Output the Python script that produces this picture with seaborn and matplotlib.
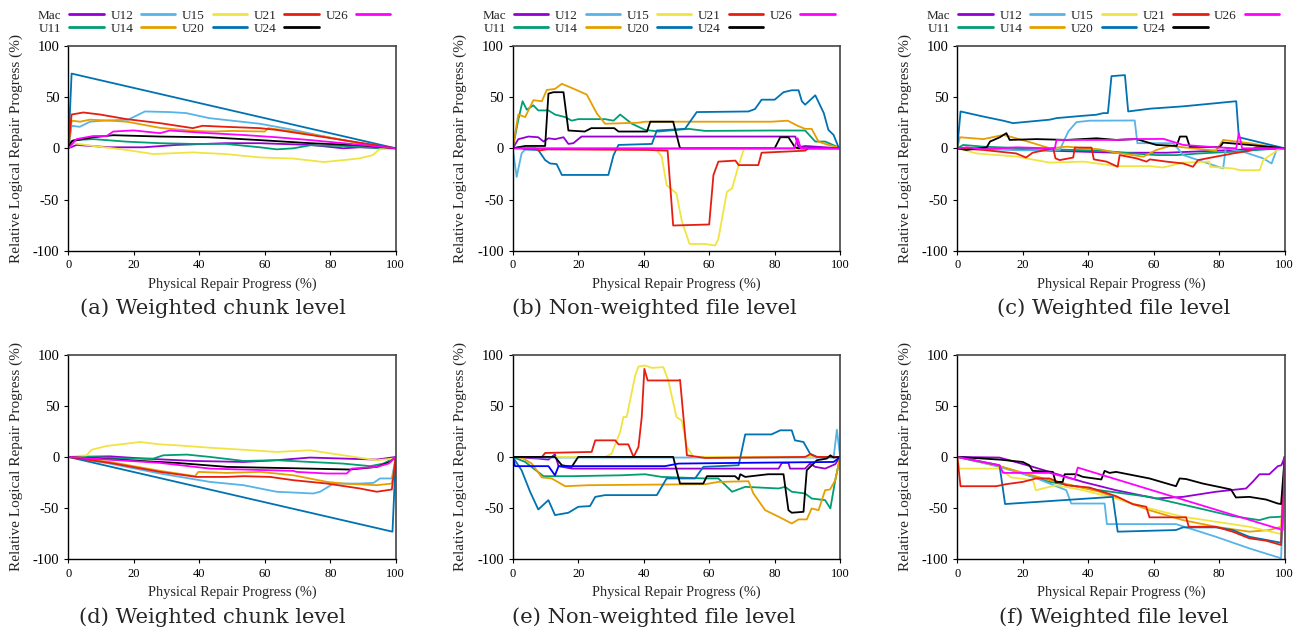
import numpy as np
import pandas as pd
import matplotlib
matplotlib.use("Agg")
import matplotlib.pyplot as plt
from matplotlib.lines import Line2D
import seaborn as sns

# ---------------- data ----------------
SERIES = ["Mac", "U11", "U12", "U14", "U15", "U20", "U21", "U24", "U26"]
COLORS = ["#9400D3", "#009E73", "#56B4E9", "#E69F00", "#F0E442",
          "#0072B2", "#E51E10", "#000000", "#FF00FF"]
EXTRA_NAME = "extra"
EXTRA_COLOR = "#0000FF"

CAPTIONS = ["(a) Weighted chunk level", "(b) Non-weighted file level", "(c) Weighted file level",
            "(d) Weighted chunk level", "(e) Non-weighted file level", "(f) Weighted file level"]
X_TICKS = [0, 20, 40, 60, 80, 100]
Y_TICKS = [-100, -50, 0, 50, 100]
X_LABEL = "Physical Repair Progress (%)"
Y_LABEL = "Relative Logical Repair Progress (%)"

# ---- panel (a) ----
A_MAC = [(0,0),(2.5,3.3),(12.7,1),(23,1),(33,3.3),(48,5),(58.5,5),(74,3.3),(84,0),(89,1),(100,0)]
A_U11 = [(0,0),(1.5,8),(7.6,9),(17.8,6.5),(28,5),(38,4.3),(48,4.3),(58.5,1),(63.6,-1),(68.7,0),(74,3),(84,2.3),(94,0.3),(100,0)]
A_U12 = [(0,0),(1,22),(3.5,21),(6.6,26),(10.7,27),(18.3,28),(23.4,36),(31,35.4),(36,34.4),(43,29.5),(50,27),(58.5,24),(68.7,18),(79,11),(89,5),(100,0)]
A_U14 = [(0,0),(1,27),(3.6,26),(6.6,28),(12.7,27),(17.8,26),(28,20),(38,17),(44.3,16.4),(50,17),(60,16.4),(61,19.7),(68.7,16.4),(79,11),(89,5),(100,0)]
A_U15 = [(0,0),(1.5,5),(7.6,2.3),(17.8,-1.6),(26,-5.6),(38,-4),(48,-5.6),(58.5,-8.9),(68.7,-10),(78,-13.4),(84,-11.5),(89,-9.8),(93,-6.6),(95,-1),(100,0)]
A_U20 = [(0,0),(1,73),(100,0)]
A_U21 = [(0,0),(1,33),(4.6,35),(9.7,33),(17.8,28.5),(28,24.6),(38,19.7),(41,22),(48,21),(58.5,19.7),(63.6,18),(74,13),(84,8),(94,3),(100,0)]
A_U24 = [(0,0),(1,7),(7.6,10.8),(13.7,12.8),(28,11.5),(43,10.8),(58.5,8),(74,5),(89,3),(100,0)]
A_U26 = [(0,0),(2.5,9),(7.6,12),(11.7,12),(13.7,16.4),(19.9,17.5),(28,14.8),(31,17.4),(43,14.8),(53.5,13),(63.6,10.8),(74,8),(84,5),(94,2),(100,0)]

# ---- panel (b) ----
B_MAC = [(0,0),(1.7,8.9),(4.8,11.5),(7.8,10.8),(9.4,6.6),(10.9,9.8),(12.9,8.9),(15.5,10.8),(17,4.3),(18.5,5),(21,11.5),(38.4,11.5),(86.3,11.5),(87.3,1),(89.3,2.3),(100,0)]
B_U11 = [(0,0),(1.7,28),(3,46),(4.3,37.7),(6.3,42),(7.8,37),(10.9,37),(12.9,33),(16,30.5),(18,27),(20,28.5),(28.2,28.5),(30.8,27),(32.8,33),(36.4,24),(40.4,18),(44.5,16.4),(53.7,19),(58.8,17),(79,17.4),(89.3,17.4),(92.4,6.6),(95.4,6.6),(98.5,2.3),(100,0)]
B_U12 = [(0,0),(1.2,-28),(2.7,-5),(3.8,-1),(100,0)]
B_U14 = [(0,0),(1.7,33),(3.8,30.5),(6.3,47),(8.9,46),(10.4,57),(12.9,58),(15,63),(18,59),(22.6,52.5),(25.7,34),(28.2,24),(38.4,25),(40.4,26),(58.8,26),(79,26),(84,27),(87,22),(89.3,19),(91.3,19),(93.4,6.5),(96.4,3.3),(99.5,1),(100,0)]
B_U15 = [(0,0),(43.5,0),(45.5,-8),(47,-36),(50,-44),(51.6,-70.5),(54,-93.4),(58.7,-93.4),(61.8,-95),(62.8,-88.5),(65.4,-42.6),(67,-39),(69,-16.4),(70.5,-1.6),(72,0),(100,0)]
B_U20 = [(0,0),(1.7,1),(3.8,-1),(7.8,-1.6),(9.9,-11.5),(11.4,-14.8),(13.4,-15.4),(15,-26),(29.2,-26),(30.8,-6.6),(32.3,3.3),(42.5,4.3),(44,17.4),(52.6,19),(56.2,35.4),(72,36),(74,38.4),(76,47.5),(80,47.5),(82.7,54.8),(85.2,56.7),(87.3,56.7),(88.3,46),(89.3,42.6),(92.4,51.8),(95,34.4),(96.4,18),(98,13),(99.5,1),(100,0)]
B_U21 = [(0,0),(7,0),(7.8,-2.3),(10.5,-1),(41.4,-1.6),(47.3,-2.3),(49,-75.4),(60,-74.4),(61.3,-26),(62.8,-13),(68,-12),(69,-16.4),(75,-16.4),(76,-4.3),(89.3,-2.3),(90.3,0),(100,0)]
B_U24 = [(0,0),(3.8,2.3),(9.9,2.3),(10.9,53.4),(12.4,54.8),(15.5,54.8),(17,17.4),(22,16.4),(24,19.7),(31,19.7),(32.3,16.4),(41,16.4),(42,26),(49,26),(51,1),(51.5,0),(80,0),(81.7,10.8),(84.2,10.8),(86.2,1),(87.3,0),(100,0)]
B_U26 = [(0,0),(86,0),(87,9.8),(88,0),(100,0)]

# ---- panel (c) ----
C_MAC = [(0,0),(8,0),(28.3,-2.3),(48.6,-4.3),(63.9,-4.3),(79,-2.3),(89.3,-1),(100,0)]
C_U11 = [(0,0),(1.8,3.3),(8,1.6),(28.3,-1),(43.5,-2.3),(53.7,-5),(60.8,-6.6),(67,-6.6),(74,-5),(84.2,-3.3),(94.4,-1),(100,0)]
C_U12 = [(0,0),(10,-1),(20,-2),(31.3,-1.6),(33.9,16.4),(36.4,25.6),(40.5,27),(54.2,27.2),(55,5),(66,5),(69,-6.6),(75,-13),(81.2,-19.7),(82,0),(87.3,-3.3),(93.4,-9.8),(96,-14.8),(97.5,-1.6),(100,0)]
C_U14 = [(0,0),(0.8,10.8),(8,9),(14,13),(15.5,12),(23.2,5),(28.3,0),(33.4,1.6),(43.5,-1),(48.6,-4.3),(56.8,-8.2),(60.8,-1.6),(65,2.3),(69,1),(79,-2.3),(81.2,8.2),(85.2,6.6),(89.3,5),(94.4,2.3),(100,0)]
C_U15 = [(0,0),(5.9,-5),(18,-8),(28.3,-14),(38.5,-13),(48.6,-17.4),(58.8,-17.4),(62.9,-18.7),(69,-14),(77,-13),(77.2,-18),(84.2,-19.7),(86.3,-21.3),(92.4,-21.3),(93.4,-11.5),(96.4,-5),(98.5,0),(100,0)]
C_U20 = [(0,0),(1,36),(8,31),(14,27),(17,24.6),(28.3,28),(30.3,29.5),(38.5,31.8),(42.5,32.8),(44.6,34.4),(46,34.4),(47.1,70.5),(51.2,71.5),(52.2,36),(58.8,38.7),(69,41),(85.2,46),(86,10.8),(100,0)]
C_U21 = [(0,0),(8,-1.6),(18,-5),(21,-9),(23,-4.3),(29.3,0),(30,-9.8),(31.3,-11.5),(35.4,-9),(35.9,0.7),(41,0.7),(41.7,-10.8),(45.6,-13),(49,-18),(49.6,-6.6),(54.7,-9.8),(57.8,-13),(58.8,-10.8),(63.9,-13),(69,-14.8),(72,-18),(73.5,-11.5),(84.2,-5),(89.3,-2.3),(91.3,1),(100,0)]
C_U24 = [(0,0),(2.8,-1.6),(9,1),(10,6.6),(13,10.8),(15,14.8),(16,8.2),(24.2,9),(33.4,8.2),(42.5,9.8),(48.6,8.2),(54.7,9),(60.8,3.3),(67,2.3),(68,11.5),(70,11.5),(71,1.6),(80.2,1),(81.2,5.6),(89.3,3.3),(100,0)]
C_U26 = [(0,0),(3,1),(8,-1),(18,1),(28.3,0),(29.8,0),(30.3,8.2),(38.5,8.2),(48.6,8.2),(53.7,9),(63,9.2),(69,3.3),(79,1),(85.2,0),(86,14.8),(87,0),(100,0)]

# ---- panel (d) ----
D_MAC = [(0,0),(12.7,0.6),(23,-1.6),(38.2,-3.9),(53.5,-4.9),(63.6,-3.2),(73.8,-0.6),(84,-1.6),(94.2,-2.6),(100,0)]
D_U11 = [(0,0),(7.6,0),(17.8,-1.6),(26,-1.6),(29,1.6),(36.2,2.3),(43.3,0),(53.5,-3.9),(63.6,-3.2),(73.8,-4.9),(84,-6.5),(92.2,-9),(96.2,-6.5),(99.3,-1.6),(100,0)]
D_U12 = [(0,0),(12.7,-6.5),(28,-16.2),(43.3,-24.4),(53.5,-27.6),(63.6,-34),(74.8,-35.7),(76.9,-34),(81,-26),(89,-26),(93.2,-25.3),(95.2,-21),(98.8,-21),(100,0)]
D_U14 = [(0,0),(12.7,-4.9),(28,-13.6),(38.7,-18.8),(39.7,-14.6),(48.4,-15.6),(58.6,-14.6),(68.7,-17.9),(79,-24.4),(84,-26),(94.2,-27.6),(98.8,-26),(100,0)]
D_U15 = [(0,0),(5.6,1.6),(7.1,7),(11.7,10.7),(17.8,13),(22,14.6),(28,12.3),(33,11.4),(43.3,9),(53.5,7),(63.6,4.9),(73.8,6.5),(84,1.6),(94.2,-3.2),(99.3,-1.6),(100,0)]
D_U20 = [(0,0),(99,-73),(100,0)]
D_U21 = [(0,0),(12.7,-5.8),(28,-14.6),(39.2,-19.5),(48.4,-19.5),(53.5,-18.8),(61.6,-19.5),(68.7,-22.7),(79,-26),(89,-30.8),(94.2,-34),(98.8,-31.8),(100,0)]
D_U24 = [(0,0),(17.8,-3.2),(33,-5.8),(48.4,-9.7),(58.6,-10.4),(73.8,-11.4),(86,-12.3),(94.2,-9.7),(98.3,-4.9),(100,0)]
D_U26 = [(0,0),(7.6,-1.6),(28,-5.8),(43.3,-11.4),(53.5,-12.3),(68.7,-13.6),(69.7,-14.6),(79,-16.2),(85,-16.2),(86.6,-11.4),(94.2,-9.7),(97.8,-6.5),(100,0)]

# ---- panel (e) ----
E_MAC = [(0,0),(7.8,-1.6),(10.9,-2.6),(12.9,2.6),(14,-9),(18,-11.4),(81.2,-11.4),(82.2,-5.8),(84.2,-5.8),(84.7,-11.4),(89.3,-11.4),(90.8,-6.5),(92.4,-9.7),(95.4,-11.4),(98.5,-7.1),(100,0)]
E_U11 = [(0,0),(3.8,-4.9),(9.4,-18.8),(18,-18.8),(33.3,-17.9),(40.4,-16.9),(45.5,-19.5),(58.8,-21),(62.8,-21),(67,-34),(71,-29.2),(81.2,-30.8),(83.2,-29.2),(85.2,-34),(89.3,-35.7),(91.3,-40.6),(95.4,-42.2),(97,-50.3),(98.5,-22.7),(100,0)]
E_U12 = [(0,0),(7.8,-0.6),(48.6,-0.6),(98,-0.6),(99,26.6),(100,0)]
E_U14 = [(0,0),(2.7,-0.6),(5.8,-6.5),(8.9,-20),(11.9,-21),(16,-28.6),(23.1,-27.6),(58.8,-26.6),(62.8,-24.4),(72,-23.7),(73.5,-35.7),(77.1,-52),(81.2,-58.4),(85.2,-65),(87.3,-61),(89.8,-61),(91.3,-50.3),(93.4,-52),(95.4,-32.5),(96.9,-31.8),(98.5,-22.7),(100,0)]
E_U15 = [(0,0),(28.2,0),(30.2,3.2),(32.8,24.4),(33.8,39),(34.8,39),(37.4,79.5),(38.4,88.3),(40.4,89.3),(42.5,87),(46,87.7),(47.5,74.7),(50,39),(51.6,35.7),(53.2,9.7),(55.2,0),(100,0)]
E_U20 = [(0,0),(2.7,-13),(5.3,-34),(7.8,-51.3),(10.9,-42.2),(12.9,-56.8),(17,-54.5),(20,-48.7),(23.6,-48),(25.2,-39),(28.2,-37.3),(44,-37.3),(47,-21),(55.7,-21),(58.2,-9.7),(69,-8.1),(71,22),(79,22),(81.7,26),(85.2,26),(86.2,16.2),(88.8,14.6),(90.8,3.2),(92.9,0),(100,0)]
E_U21 = [(0,0),(8.9,0),(9.9,3.9),(24.1,4.9),(25.2,16.2),(31.3,16.2),(32.3,12.3),(35.3,12.3),(36.9,0),(38.4,9.7),(39.4,39),(40.2,86),(41.2,74.7),(50.6,74.7),(51.1,75.3),(53.2,1.6),(58.8,-1),(89.3,0),(90.8,2.6),(92.9,0),(100,0)]
E_U24 = [(0,0),(12.9,0),(15,-8.1),(18,-9.7),(20,0),(49,0),(51.1,-26),(58.2,-26),(59.3,-18.8),(67.9,-18.8),(69,-22),(69.5,-16.9),(71,-19.5),(78,-16.9),(82.7,-16.9),(84.2,-52),(85.2,-54.5),(88.8,-53.6),(89.8,-13),(92.9,-3.2),(95.9,-1.6),(97,1.6),(98,-0.6),(100,0)]
E_U26 = []
E_EXTRA = [(0,0),(0.7,-9),(10.9,-9),(12.9,-17.9),(14,-9),(46.5,-9),(50.6,-6.5),(69,-5.8),(98,-4.9),(100,0)]

# ---- panel (f) ----
F_MAC = [(0,0),(12.9,-0.6),(23.1,-9.7),(38.4,-24.4),(48.5,-32.5),(60.7,-40.6),(68.9,-39),(79,-34),(88.2,-30.8),(90.2,-24.4),(92.3,-16.9),(95.3,-16.9),(97.9,-9),(99,-8.1),(100,0)]
F_U11 = [(0,0),(12.9,-9),(28.2,-24.4),(43.4,-32.5),(58.7,-39),(74,-50.3),(84.1,-57.8),(92.3,-61.7),(95.3,-59),(98.9,-58.4),(99.4,-56),(100,0)]
F_U12 = [(0,0),(12.9,-9.7),(23.1,-19.5),(33.3,-32.5),(34.8,-45.5),(45,-45.5),(45.7,-65.6),(66.8,-65.6),(79,-78),(89.2,-89.3),(98.9,-99),(100,0)]
F_U14 = [(0,0),(12.9,-9),(28.2,-22.7),(43.4,-34),(58.7,-52),(68.9,-61.7),(79,-68.2),(89.2,-73),(95.3,-71.4),(98.9,-68.2),(100,0)]
F_U15 = [(0,0),(0.7,-11.4),(12.9,-11.4),(16.5,-20),(23.1,-22.7),(24,-32.5),(30.2,-27.6),(38.4,-32.5),(48.5,-40.6),(58.7,-50.3),(68.9,-58.4),(79,-63.3),(89.2,-68.2),(98.9,-75.3),(100,0)]
F_U20 = [(0,0),(12.9,-8.1),(14.6,-46),(47.5,-39),(49,-73),(66.8,-71.4),(68.9,-68.8),(79,-68.8),(84.1,-71.4),(89.2,-78),(98.9,-83.8),(100,0)]
F_U21 = [(0,0),(1,-28.6),(11.9,-28.6),(14.9,-26.6),(20,-24.4),(24.1,-21),(28.2,-21),(33.3,-27.6),(40.4,-29.9),(48.5,-38.3),(53.6,-46.1),(57.7,-48.7),(58.7,-59),(69.9,-59),(70.7,-68.2),(79,-68.2),(84.1,-73),(89.2,-79.5),(94.3,-81.8),(98.9,-86),(100,0)]
F_U24 = [(0,0),(12.9,-2.6),(20,-4.9),(22,-8.1),(23,-13.6),(29.2,-14.6),(30,-24.4),(32.2,-24.4),(32.8,-16.9),(36.3,-16.9),(38.4,-19.5),(44,-22),(45,-13.6),(46.5,-15.6),(48.5,-14.6),(58.7,-21),(66.8,-28.6),(67.9,-21),(69.9,-21.6),(75,-26),(81,-30),(83.6,-31.8),(85.1,-39.6),(89.2,-39),(94.3,-41.6),(97.9,-45.5),(98.9,-46),(100,0)]
F_U26 = [(0,0),(12.9,-8.1),(14,-15.6),(28.2,-15.6),(35.8,-22),(36.8,-10.4),(99.4,-71.4),(100,0)]

PANELS = [
    [A_MAC, A_U11, A_U12, A_U14, A_U15, A_U20, A_U21, A_U24, A_U26, []],
    [B_MAC, B_U11, B_U12, B_U14, B_U15, B_U20, B_U21, B_U24, B_U26, []],
    [C_MAC, C_U11, C_U12, C_U14, C_U15, C_U20, C_U21, C_U24, C_U26, []],
    [D_MAC, D_U11, D_U12, D_U14, D_U15, D_U20, D_U21, D_U24, D_U26, []],
    [E_MAC, E_U11, E_U12, E_U14, E_U15, E_U20, E_U21, E_U24, E_U26, E_EXTRA],
    [F_MAC, F_U11, F_U12, F_U14, F_U15, F_U20, F_U21, F_U24, F_U26, []],
]

# ---------------- style ----------------
sns.set_style("ticks")
plt.rcParams["font.family"] = ["Liberation Serif", "DejaVu Serif"]
plt.rcParams["axes.linewidth"] = 1.0
plt.rcParams["axes.unicode_minus"] = False

names = SERIES + [EXTRA_NAME]
palette = dict(zip(names, COLORS + [EXTRA_COLOR]))

fig = plt.figure(figsize=(13.04, 6.31), dpi=100)

lefts = [0.0524, 0.3932, 0.7341]
width = 0.2511
bottoms = [0.6027, 0.1136]
height = 0.3245
cap_x = [0.1630, 0.5015, 0.8543]
cap_y = [0.512, 0.022]

for i, panel in enumerate(PANELS):
    r, c = divmod(i, 3)
    ax = fig.add_axes([lefts[c], bottoms[r], width, height])
    rows = []
    for name, pts in zip(names, panel):
        for k, (x, y) in enumerate(pts):
            rows.append({"x": x, "y": y, "series": name, "order": k})
    df = pd.DataFrame(rows)
    present = [n for n in names if n in set(df["series"])]
    sns.lineplot(data=df, x="x", y="y", hue="series", hue_order=present,
                 palette=palette, estimator=None, sort=False, units="series",
                 linewidth=1.3, legend=False, ax=ax)
    ax.set_xlim(0, 100)
    ax.set_ylim(-100, 100)
    ax.set_xticks(X_TICKS)
    ax.set_yticks(Y_TICKS)
    ax.tick_params(axis="both", length=3, width=0.8, direction="out",
                   colors="black")
    ax.tick_params(axis="x", labelsize=9, pad=3)
    ax.tick_params(axis="y", labelsize=10.5, pad=3.5)
    ax.set_xlabel(X_LABEL, fontsize=10.4, labelpad=4.5)
    ax.set_ylabel(Y_LABEL, fontsize=11, labelpad=7)
    for s in ["left", "bottom"]:
        ax.spines[s].set_color("black")
        ax.spines[s].set_linewidth(1.0)
    for s in ["top", "right"]:
        ax.spines[s].set_color("#444444")
        ax.spines[s].set_linewidth(1.2)
    fig.text(cap_x[c], cap_y[r], CAPTIONS[i], ha="center", va="center",
             fontsize=15.2, family="DejaVu Serif")
    if r == 0:
        handles = [Line2D([], [], color=palette[n], lw=2) for n in SERIES]
        ax.legend(handles, SERIES, loc="lower left", bbox_to_anchor=(-0.093, 1.055),
                  ncol=5, markerfirst=False, frameon=False, fontsize=9.5,
                  handlelength=2.6, handletextpad=0.6, columnspacing=0.5,
                  labelspacing=0.05, borderaxespad=0.0, borderpad=0.0)

fig.savefig("out.png", dpi=100)
